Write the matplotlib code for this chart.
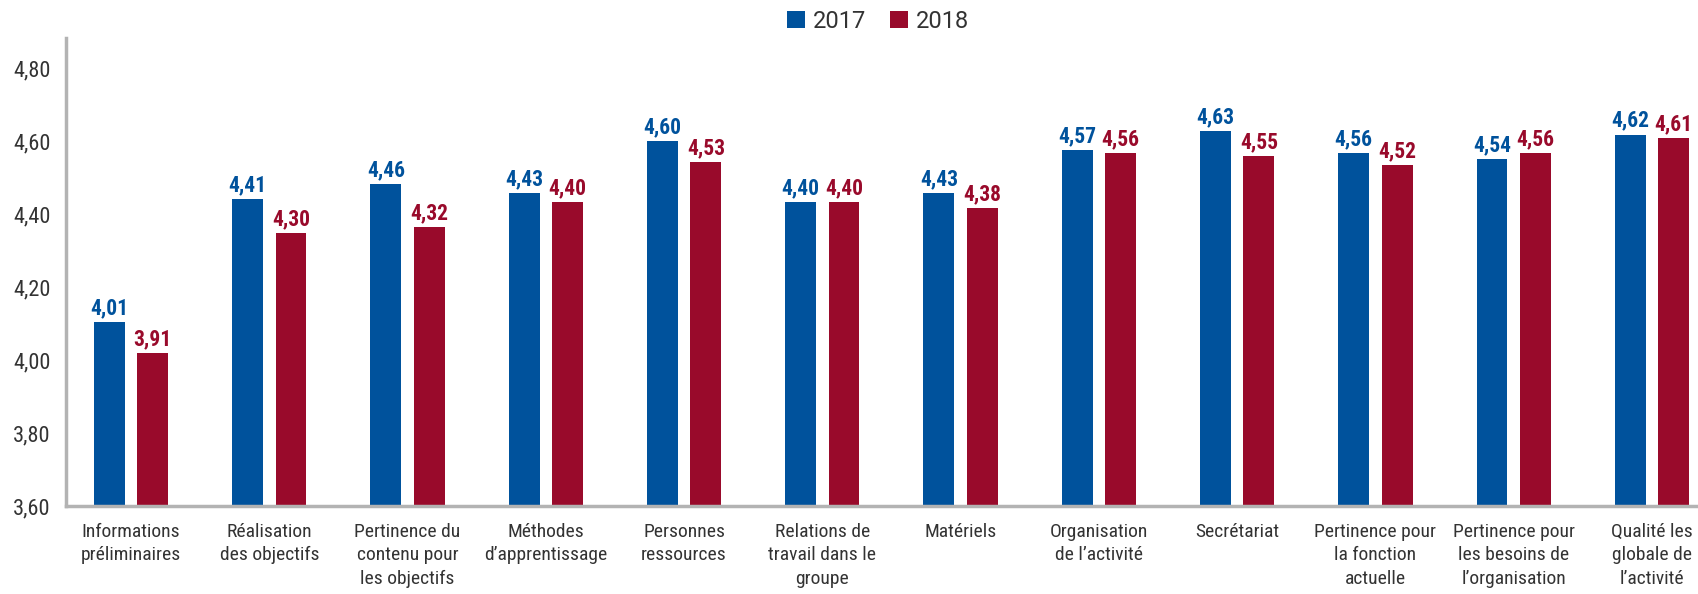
import matplotlib
matplotlib.use("Agg")
import matplotlib.pyplot as plt
import numpy as np

#---donnees---#
categories = [
    "Informations\npréliminaires",
    "Réalisation\ndes objectifs",
    "Pertinence du\ncontenu pour\nles objectifs",
    "Méthodes\nd’apprentissage",
    "Personnes\nressources",
    "Relations de\ntravail dans le\ngroupe",
    "Matériels",
    "Organisation\nde l’activité",
    "Secrétariat",
    "Pertinence pour\nla fonction\nactuelle",
    "Pertinence pour\nles besoins de\nl’organisation",
    "Qualité les\nglobale de\nl’activité",
]
valeurs_2017 = [4.01, 4.41, 4.46, 4.43, 4.60, 4.40, 4.43, 4.57, 4.63, 4.56, 4.54, 4.62]
valeurs_2018 = [3.91, 4.30, 4.32, 4.40, 4.53, 4.40, 4.38, 4.56, 4.55, 4.52, 4.56, 4.61]
graduations = [3.60, 3.80, 4.00, 4.20, 4.40, 4.60, 4.80]

#---style---#
BLEU = "#00529c"
ROUGE = "#990a2b"
GRIS = "#b3b3b3"
TEXTE = "#333333"
ETROIT = ["Roboto Condensed", "DejaVu Sans"]

# l'axe du graphique d'origine n'est pas a la meme echelle que les barres
AXE_BAS = 3.412
ECHELLE = 1.1865

fig = plt.figure(figsize=(16.99, 5.94), dpi=100)
ax = fig.add_axes([66 / 1699, 1 - 506 / 594, 1 - 66 / 1699, 468 / 594])

x = np.arange(len(categories))
larg = 0.223
decal = 0.157
b1 = ax.bar(x - decal, valeurs_2017, larg, color=BLEU, label="2017")
b2 = ax.bar(x + decal, valeurs_2018, larg, color=ROUGE, label="2018")

for barres, vals, coul in [(b1, valeurs_2017, BLEU), (b2, valeurs_2018, ROUGE)]:
    for r, v in zip(barres, vals):
        ax.annotate(f"{v:.2f}".replace(".", ","), (r.get_x() + r.get_width() / 2, v),
                    xytext=(0, 2), textcoords="offset points", ha="center", va="bottom",
                    color=coul, fontsize=15.5, fontweight="bold", family=ETROIT)

ax.set_ylim(AXE_BAS, 4.934)
ax.set_xlim(-0.47, 11.34)
ax.set_yticks([AXE_BAS + (g - 3.60) * ECHELLE for g in graduations])
ax.set_yticklabels([f"{g:.2f}".replace(".", ",") for g in graduations],
                   fontsize=16, color=TEXTE, family=ETROIT)
ax.set_xticks(x)
ax.set_xticklabels(categories, fontsize=14, color=TEXTE, family=ETROIT,
                   linespacing=1.4, va="top")
ax.tick_params(axis="both", length=0)
ax.tick_params(axis="y", pad=11)
ax.tick_params(axis="x", pad=12)

for s in ["top", "right"]:
    ax.spines[s].set_visible(False)
for s in ["left", "bottom"]:
    ax.spines[s].set_color(GRIS)
    ax.spines[s].set_linewidth(2.5)

fig.legend(handles=[b1, b2], labels=["2017", "2018"], loc="center",
           bbox_to_anchor=(878 / 1699, 1 - 21 / 594), ncol=2, frameon=False,
           prop={"family": ["Roboto", "DejaVu Sans"], "size": 17},
           handlelength=0.75, handleheight=0.75, handletextpad=0.35,
           columnspacing=1.0, labelcolor=TEXTE)

fig.savefig("out.png", dpi=100)
